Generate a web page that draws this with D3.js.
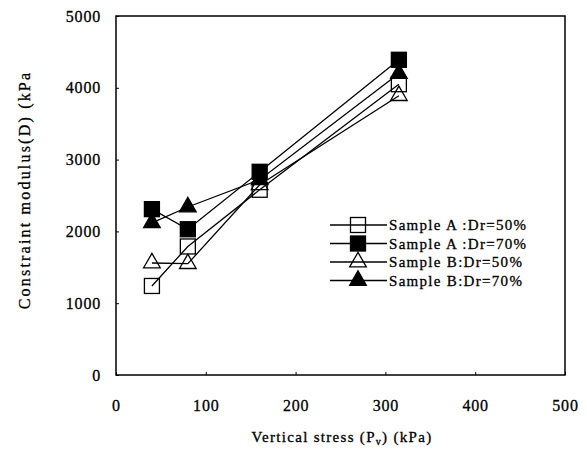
<!DOCTYPE html>
<html><head><meta charset="utf-8">
<script src="https://cdn.jsdelivr.net/npm/d3@7"></script>
<style>body{margin:0;background:#fff}svg{display:block}</style>
</head><body>
<svg id="c" width="587" height="450"></svg>
<script>
const xValues = [40, 80, 160, 315];
const seriesNames = ["Sample A :Dr=50%", "Sample A :Dr=70%", "Sample B:Dr=50%", "Sample B:Dr=70%"];
const seriesA50 = [1240, 1790, 2580, 4050];
const seriesA70 = [2310, 2030, 2830, 4390];
const seriesB50 = [1560, 1550, 2650, 3890];
const seriesB70 = [2120, 2340, 2720, 4200];
const xTicks = [0, 100, 200, 300, 400, 500];
const yTicks = [0, 1000, 2000, 3000, 4000, 5000];
const markerShapes = ["square", "square", "triangle", "triangle"];
const markerFilled = [false, true, false, true];

const series = [seriesA50, seriesA70, seriesB50, seriesB70];
const svg = d3.select("#c");
const L = 116, R = 565, T = 16, B = 375;
const x = d3.scaleLinear().domain([0, 500]).range([L, R]);
const y = d3.scaleLinear().domain([0, 5000]).range([B, T]);
const font = "'Liberation Serif','Times New Roman',serif";

svg.append("rect").attr("x", L).attr("y", T).attr("width", R - L).attr("height", B - T)
  .attr("fill", "none").attr("stroke", "#000").attr("stroke-width", 1.5);

const xAxis = svg.append("g").attr("transform", `translate(0,${B})`)
  .call(d3.axisBottom(x).tickValues(xTicks).tickSize(-3).tickPadding(25).tickFormat(d3.format("d")));
const yAxis = svg.append("g").attr("transform", `translate(${L},0)`)
  .call(d3.axisLeft(y).tickValues(yTicks).tickSize(-3).tickPadding(15).tickFormat(d3.format("d")));
[xAxis, yAxis].forEach(a => {
  a.select(".domain").remove();
  a.selectAll("line").attr("stroke", "#000");
  a.selectAll("text").attr("font-family", font).attr("font-size", 16).attr("letter-spacing", 0.8)
    .attr("fill", "#000").attr("stroke", "#000").attr("stroke-width", 0.3);
});

const line = d3.line().x((d, i) => x(xValues[i])).y(d => y(d));
function drawMarker(g, shape, filled, cx, cy) {
  if (shape === "square") {
    g.append("rect").attr("x", cx - 7.5).attr("y", cy - 7.5).attr("width", 15).attr("height", 15)
      .attr("fill", filled ? "#000" : "none").attr("stroke", "#000").attr("stroke-width", 1.3);
  } else {
    const s = d3.symbol().type(d3.symbolTriangle).size(120);
    g.append("path").attr("d", s()).attr("transform", `translate(${cx},${cy})`)
      .attr("fill", filled ? "#000" : "none").attr("stroke", "#000").attr("stroke-width", 1.3);
  }
}
series.forEach((s, k) => {
  const g = svg.append("g");
  g.append("path").datum(s).attr("d", line).attr("fill", "none").attr("stroke", "#000").attr("stroke-width", 1.3);
  s.forEach((v, i) => drawMarker(g, markerShapes[k], markerFilled[k], x(xValues[i]), y(v)));
});

// legend
const lg = svg.append("g");
seriesNames.forEach((n, k) => {
  const yy = 225 + k * 18.5;
  lg.append("line").attr("x1", 330).attr("x2", 387).attr("y1", yy).attr("y2", yy).attr("stroke", "#000").attr("stroke-width", 1.3);
  drawMarker(lg, markerShapes[k], markerFilled[k], 358, yy);
  lg.append("text").attr("x", 389).attr("y", yy + 5).text(n)
    .attr("font-family", font).attr("font-size", 15).attr("letter-spacing", 1.3).attr("fill", "#000")
    .attr("stroke", "#000").attr("stroke-width", 0.3);
});

// axis titles
const xt = svg.append("text").attr("x", 342).attr("y", 442).attr("text-anchor", "middle")
  .attr("font-family", font).attr("font-size", 15).attr("letter-spacing", 1.3).attr("fill", "#000")
  .attr("stroke", "#000").attr("stroke-width", 0.3);
xt.append("tspan").text("Vertical stress (P");
xt.append("tspan").text("v").attr("font-size", 10).attr("dy", 3);
xt.append("tspan").text(") (kPa)").attr("dy", -3);

svg.append("text").attr("transform", "translate(30,190) rotate(-90)").attr("text-anchor", "middle")
  .attr("font-family", font).attr("font-size", 16).attr("letter-spacing", 2.2).attr("fill", "#000")
  .attr("stroke", "#000").attr("stroke-width", 0.3)
  .text("Constraint modulus(D) (kPa");
</script>
</body></html>
